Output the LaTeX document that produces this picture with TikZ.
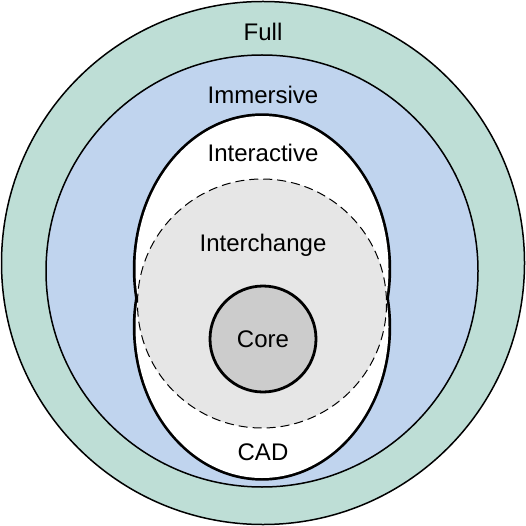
\documentclass[tikz,border=0pt]{standalone}
\usepackage{fontspec}
\setmainfont{Liberation Sans}
\definecolor{fullgreen}{RGB}{190,222,214}
\definecolor{immblue}{RGB}{192,212,238}
\definecolor{xchgray}{RGB}{230,230,230}
\definecolor{coregray}{RGB}{204,204,204}
\tikzset{
  ring/.style={draw=black, line width=1.5pt},
  label/.style={font=\fontsize{24}{28}\selectfont, inner sep=0pt}
}
\begin{document}
\begin{tikzpicture}[x=1pt,y=-1pt]
    \useasboundingbox (0,0) rectangle (526,526);
    \coordinate (cfull) at (263,263);
    \coordinate (cimm) at (262,271);
    \coordinate (cint) at (262,269);
    \coordinate (ccad) at (262,327);
    \coordinate (cxch) at (262,303.5);
    \coordinate (ccore) at (263,339);
    % outer rings
    \draw[ring, fill=fullgreen] (cfull) circle [radius=261.5];
    \draw[ring, fill=immblue] (cimm) circle [radius=216];
    % interactive + cad, outline of the union only
    \draw[line width=5.4pt] (cint) ellipse [x radius=126.5, y radius=153];
    \draw[line width=5.4pt] (ccad) ellipse [x radius=126.5, y radius=151];
    \fill[white] (cint) ellipse [x radius=126.5, y radius=153];
    \fill[white] (ccad) ellipse [x radius=126.5, y radius=151];
    % interchange and core
    \draw[fill=xchgray, line width=1pt, dash pattern=on 9pt off 5pt] (cxch) circle [radius=124.5];
    \draw[fill=coregray, line width=2.8pt] (ccore) circle [radius=53];
    % labels
    \node[label] (full) at (263,32) {Full};
    \node[label] (imm) at (263,95) {Immersive};
    \node[label] (int) at (263,153) {Interactive};
    \node[label] (xch) at (263,245) {Interchange};
    \node[label] (core) at (ccore) {Core};
    \node[label] (cad) at (263,452) {CAD};
\end{tikzpicture}
\end{document}
